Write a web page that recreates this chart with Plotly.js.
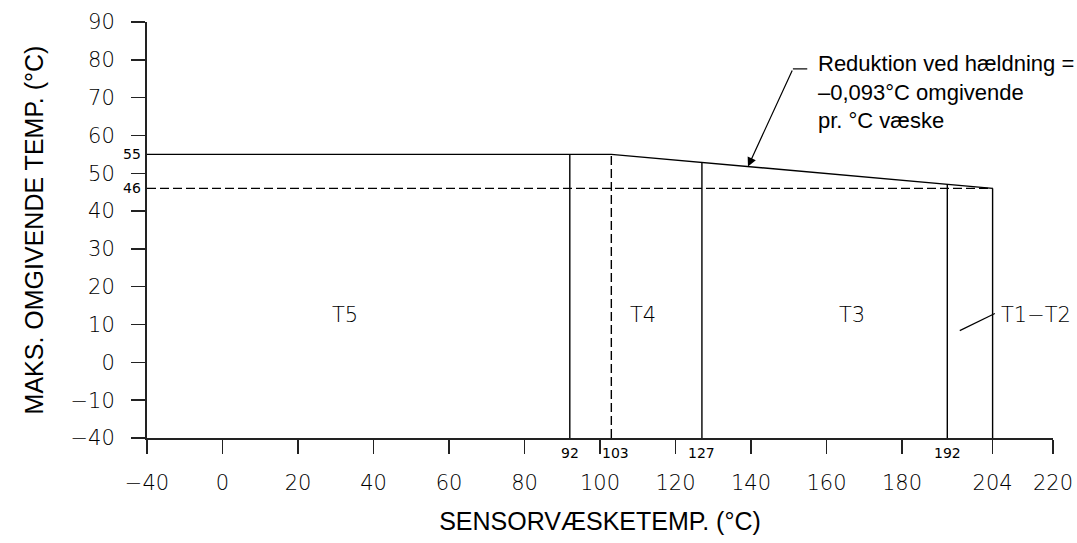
<!DOCTYPE html>
<html><head><meta charset="utf-8">
<script src="https://cdn.plot.ly/plotly-3.0.1.min.js"></script>
<style>html,body{margin:0;padding:0;background:#fff}</style>
</head><body><div id="chart" style="width:1077px;height:543px"></div>
<script>
// ---- data (°C) ----
const fluidAxisStart = -40;            // sensor fluid temperature at the left end of the axis
const ambientAxisStart = -40;          // ambient temperature at the bottom of the axis
const ambientLimitCool = 55;           // max ambient up to the derating start
const ambientLimitHot = 46;            // max ambient at the highest fluid temperature
const deratingStart = 103;
const deratingEnd = 204;
const classBoundaries = [92, 127, 192, 204];
const classBoundaryLabels = ["92", "127", "192", "204"];
const classNames = ["T5", "T4", "T3", "T1−T2"];
const xTickValues = [-40, 0, 20, 40, 60, 80, 100, 120, 140, 160, 180, 204, 220];
const yTickValues = [-40, -10, 0, 10, 20, 30, 40, 50, 60, 70, 80, 90];
const slopeText = "Reduktion ved hældning =<br>–0,093°C omgivende<br>pr. °C væske";

// axis break: the -40 value is drawn one step before the next tick (broken axis)
const brkX = v => (v === -40 ? -20 : v);
const brkY = v => (v === -40 ? -20 : v);
const fmt = v => (v < 0 ? "−" + Math.abs(v) : String(v));

const limitAt = x => x <= deratingStart ? ambientLimitCool :
  ambientLimitCool + (ambientLimitHot - ambientLimitCool) * (x - deratingStart) / (deratingEnd - deratingStart);

const black = "#000";
const lw = 1.4;
const traces = [];
traces.push({x: [fluidAxisStart, deratingStart, deratingEnd].map(brkX),
  y: [ambientLimitCool, ambientLimitCool, ambientLimitHot], mode: "lines",
  line: {color: black, width: lw}, hoverinfo: "skip"});
traces.push({x: [fluidAxisStart, deratingEnd].map(brkX), y: [ambientLimitHot, ambientLimitHot],
  mode: "lines", line: {color: black, width: lw, dash: "9px,4px"}, hoverinfo: "skip"});
classBoundaries.forEach(b => traces.push({x: [b, b], y: [brkY(ambientAxisStart), limitAt(b)],
  mode: "lines", line: {color: black, width: lw}, hoverinfo: "skip"}));
traces.push({x: [deratingStart, deratingStart], y: [brkY(ambientAxisStart), ambientLimitCool],
  mode: "lines", line: {color: black, width: lw, dash: "9px,4px"}, hoverinfo: "skip"});

const tickFont = {family: "DejaVu Sans", size: 21, color: "#000", weight: 200};
const smallFont = {family: "DejaVu Sans", size: 14, color: "#000"};
const titleFont = {family: "Liberation Sans", size: 25, color: "#000"};

const ann = [];
[ambientLimitCool, ambientLimitHot].forEach(v => ann.push({xref: "paper", x: 0, xanchor: "right", xshift: -4,
  yref: "y", y: v, yanchor: "middle", text: String(v), showarrow: false, font: smallFont}));
[92, deratingStart, 127, 192].forEach(v => ann.push({xref: "x", x: v, yref: "y", y: brkY(ambientAxisStart),
  yanchor: "top", yshift: -5, xshift: v === deratingStart ? 4 : 0, text: String(v), showarrow: false, font: smallFont}));
const labelX = [32.4, 111.3, 166.7];
classNames.slice(0, 3).forEach((n, i) => ann.push({x: labelX[i], y: 12.4, text: n, showarrow: false,
  font: tickFont, xanchor: "center", yanchor: "middle"}));
ann.push({x: 205.8, y: 12.4, text: classNames[3], showarrow: false, font: tickFont, xanchor: "left", yanchor: "middle"});
ann.push({x: 157.2, y: 71.4, text: slopeText, showarrow: false, xanchor: "left", yanchor: "middle", align: "left",
  font: {family: "Liberation Sans", size: 22, color: "#000"}});
ann.push({x: 139.2, y: limitAt(139.2), ax: 151.1, ay: 77.6, axref: "x", ayref: "y", text: "",
  showarrow: true, arrowhead: 2, arrowsize: 1.5, arrowwidth: 1.2, arrowcolor: black, standoff: 0});

const shapes = [
  {type: "line", xref: "x", yref: "y", x0: 151.1, y0: 77.6, x1: 154.9, y1: 77.6, line: {color: black, width: 1.2}},
  {type: "line", xref: "x", yref: "y", x0: 195.3, y0: 8.4, x1: 204.6, y1: 12.9, line: {color: black, width: 1.2}}
];

const axisCommon = {showgrid: false, zeroline: false, showline: true, linecolor: "#222", linewidth: 2,
  ticks: "outside", ticklen: 14, tickwidth: 1.5, tickcolor: "#222", tickfont: tickFont, fixedrange: true};

const layout = {
  width: 1077, height: 543, paper_bgcolor: "#fff", plot_bgcolor: "#fff", showlegend: false,
  margin: {l: 147, r: 24, t: 22, b: 105},
  xaxis: Object.assign({}, axisCommon, {range: [-20, 220], tickmode: "array",
    tickvals: xTickValues.map(brkX), ticktext: xTickValues.map(fmt), ticklabelstandoff: 11,
    title: {text: "SENSORVÆSKETEMP. (°C)", font: titleFont, standoff: 18}}),
  yaxis: Object.assign({}, axisCommon, {range: [-20, 90], tickmode: "array",
    tickvals: yTickValues.map(brkY), ticktext: yTickValues.map(fmt), ticklabelstandoff: 12,
    title: {text: "MAKS. OMGIVENDE TEMP. (°C)", font: titleFont, standoff: 20}}),
  annotations: ann, shapes: shapes
};
Plotly.newPlot("chart", traces, layout, {displayModeBar: false, staticPlot: true});
</script></body></html>
